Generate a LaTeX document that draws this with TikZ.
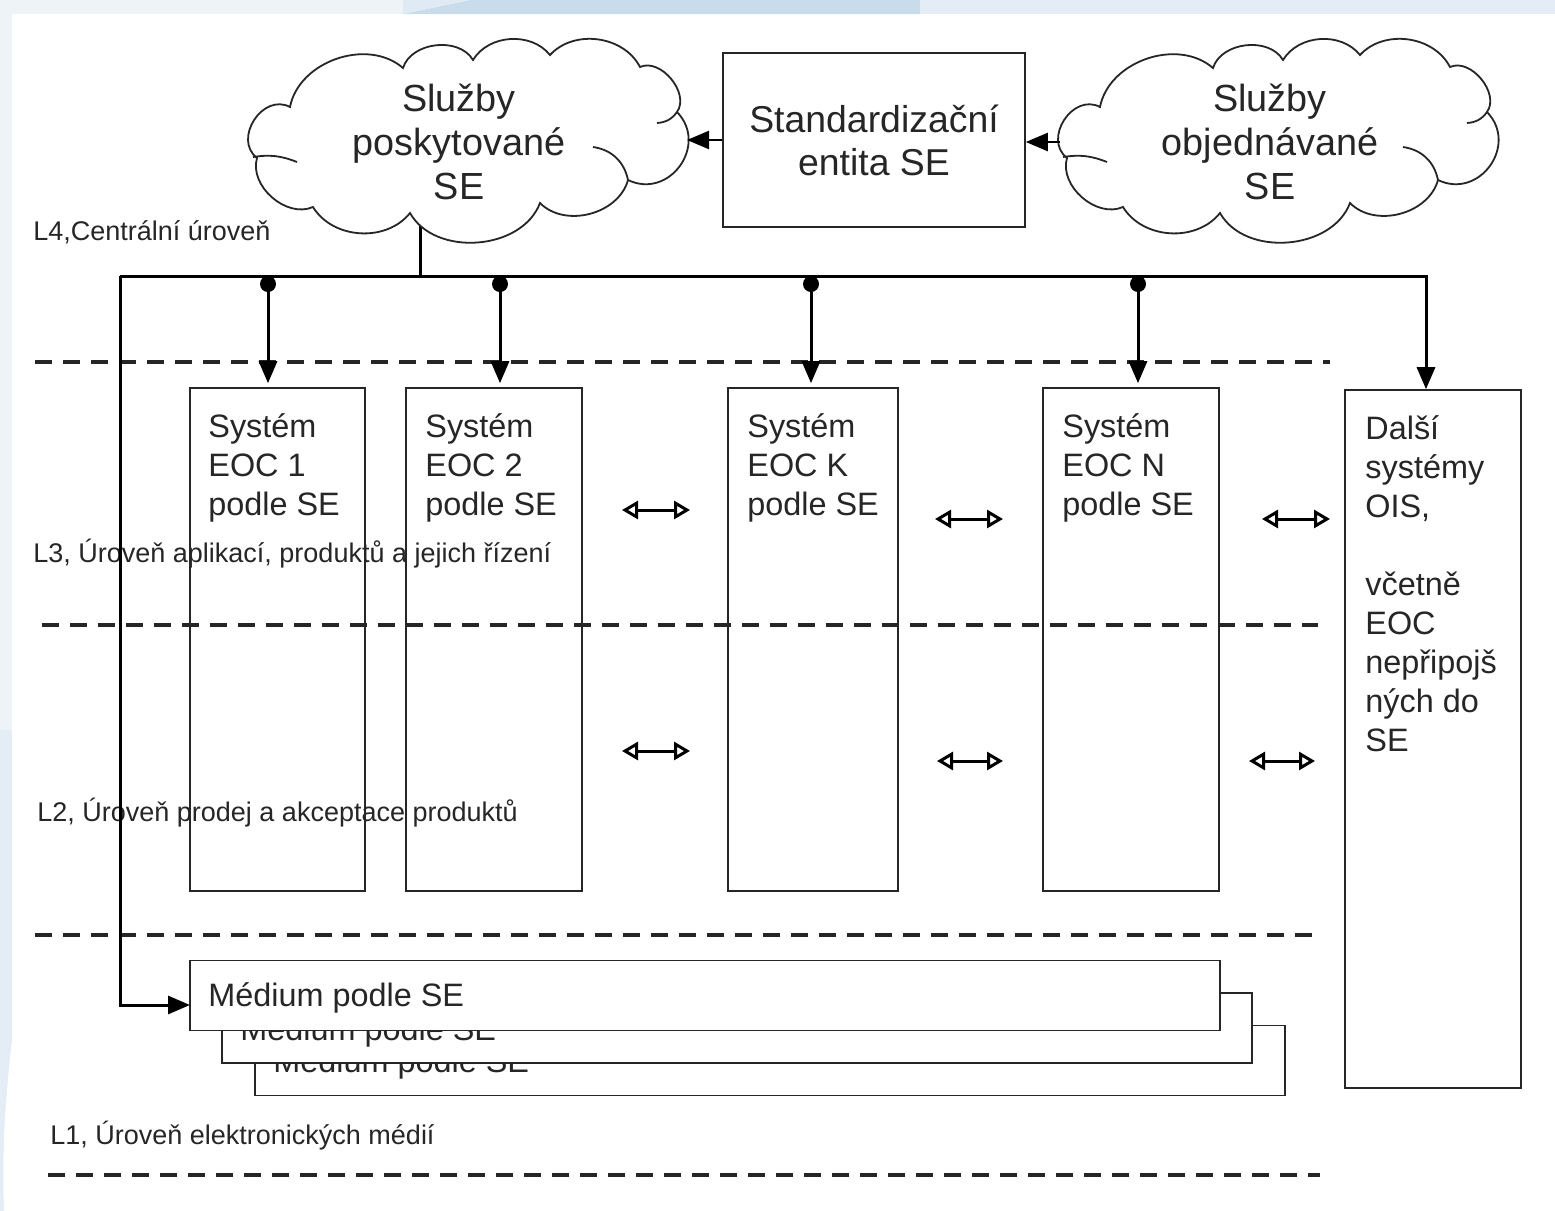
\documentclass[tikz,border=0pt]{standalone}
\usepackage{fontspec}
\setmainfont{Liberation Sans}
\usetikzlibrary{arrows.meta,backgrounds}
\definecolor{stripA}{HTML}{EEF3F8}
\definecolor{stripB}{HTML}{C9DCEC}
\definecolor{stripC}{HTML}{E4ECF5}
\begin{document}
\begin{tikzpicture}[x=0.5pt,y=-0.5pt,
  sysbox/.style={draw=black!85, line width=0.8pt, rectangle, inner sep=0pt},
  medbox/.style={draw=black!85, line width=0.8pt, fill=white, rectangle, inner sep=0pt, minimum width=515pt, minimum height=35pt},
  layerline/.style={line width=1.6pt, dash pattern=on 8.5pt off 5.5pt, black!85},
  busline/.style={line width=1.5pt},
  busarrow/.style={line width=1.5pt, -{Triangle[length=11pt,width=9pt]}},
  dblarrow/.style={line width=1.5pt, {Triangle[open,length=8pt,width=9pt]}-{Triangle[open,length=8pt,width=9pt]}},
  busdot/.style={circle, fill, inner sep=0pt, minimum size=8pt},
  boxtext/.style={font=\fontsize{16.2}{19.5}\selectfont, align=left, anchor=north west, inner sep=0pt, text=black!85},
  cloudtext/.style={font=\fontsize{18.9}{22}\selectfont, align=center, inner sep=0pt, text=black!85},
  lvltext/.style={font=\fontsize{13.5}{16}\selectfont, anchor=west, inner sep=0pt, text=black!85},
  cloudline/.style={draw=black!85, line width=0.9pt},
  vcloud/.pic={
    \draw[cloudline, fill=white] (290,107) to[bend left=60] (403,68) to[bend left=66] (473,60)
      to[bend left=55] (550,55) to[bend left=55] (640,67) to[bend left=75] (677,112)
      to[bend left=80, looseness=1.4] (628,180) to[bend left=60] (540,203)
      to[bend left=65] (410,213) to[bend left=55] (313,207) to[bend left=65] (257,158)
      to[bend left=85, looseness=1.3] (290,107) -- cycle;
    \draw[cloudline] (593,147) to[bend left=35] (628,180);
    \draw[cloudline] (253,157) to[bend left=15] (297,162);
    \draw[cloudline] (657,123) to[bend right=25] (677,112);
  }
]
\useasboundingbox (0,0) rectangle (1555,1211);

% background
\begin{scope}[on background layer]
  \fill[white] (0,0) rectangle (1555,1211);
  \fill[stripA] (0,0) rectangle (403,14);
  \fill[stripB] (403,14) -- (470,0) -- (920,0) -- (920,14) -- cycle;
  \fill[stripB!60!white] (403,0) -- (470,0) -- (403,14) -- cycle;
  \fill[stripC] (920,0) rectangle (1555,14);
  \fill[stripA] (0,14) rectangle (12,730);
  \fill[stripC] (0,730) rectangle (12,1211);
  \fill[white] (12,1040) .. controls (4,1110) and (2,1160) .. (4,1211) -- (12,1211) -- cycle;
\end{scope}

% clouds
\pic at (0,0) {vcloud};
\pic at (810,0) {vcloud};
\coordinate (cLe) at (687,142);
\coordinate (cRw) at (1060,142);
\node[cloudtext] (cLt) at (459,142) {Služby\\poskytované\\SE};
\node[cloudtext] (cRt) at (1270,142) {Služby\\objednávané\\SE};

% standardization entity
\node[sysbox, minimum width=151pt, minimum height=87pt] (std) at (874,140) {};
\node[cloudtext, font=\fontsize{18.7}{21.5}\selectfont] (stdt) at (874,140) {Standardizační\\entita SE};

\draw[busarrow, line width=1.2pt] (std.west) -- (std.west -| cLe);
\draw[busarrow, line width=1.2pt] (cRw) -- (cRw -| std.east);

% system boxes
\node[sysbox, minimum width=87.5pt, minimum height=251.5pt] (e1) at (277.5,639.5) {};
\node[sysbox, minimum width=88pt, minimum height=251.5pt] (e2) at (494,639.5) {};
\node[sysbox, minimum width=85pt, minimum height=251.5pt] (ek) at (813,639.5) {};
\node[sysbox, minimum width=88pt, minimum height=251.5pt] (en) at (1131,639.5) {};
\node[sysbox, minimum width=88pt, minimum height=349pt] (dal) at (1433,739) {};

\node[boxtext] (e1t) at (208,413) {Systém\\EOC 1\\podle SE};
\node[boxtext] (e2t) at (425,413) {Systém\\EOC 2\\podle SE};
\node[boxtext] (ekt) at (747,413) {Systém\\EOC K\\podle SE};
\node[boxtext] (ent) at (1062,413) {Systém\\EOC N\\podle SE};
\node[boxtext] (dalt) at (1365,415) {Další\\systémy\\OIS,\\\mbox{}\\včetně\\EOC\\nepřipojš\\ných do\\SE};

% media boxes
\node[medbox] (m3) at (770,1060.5) {};
\node[boxtext, anchor=west] (m3t) at (273,1064) {Médium podle SE};
\node[medbox] (m2) at (737,1028) {};
\node[boxtext, anchor=west] (m2t) at (240,1032) {Médium podle SE};
\node[medbox] (m1) at (705,995.5) {};
\node[boxtext, anchor=west] (m1t) at (208,998) {Médium podle SE};
\coordinate (mIn) at (190,1005);

% layer separators
\draw[layerline] (35,362) -- (1330,362);
\draw[layerline] (42,625) -- (1318,625);
\draw[layerline] (35,935) -- (1315,935);
\draw[layerline] (48,1175) -- (1320,1175);

% level labels
\node[lvltext] (l4) at (33,232) {L4,Centrální úroveň};
\node[lvltext] (l3) at (33,554) {L3, Úroveň aplikací, produktů a jejich řízení};
\node[lvltext] (l2) at (37,813) {L2, Úroveň prodej a akceptace produktů};
\node[lvltext] (l1) at (50,1136) {L1, Úroveň elektronických médií};

% bus
\coordinate (busL) at (120,276);
\coordinate (busS) at (420,276);
\coordinate (busR) at (1426,276);
\begin{scope}[on background layer]
  \draw[busline] (busS) -- (busS |- cLt.center);
\end{scope}
\draw[busarrow] (busL) -- (busR) -- (busR |- dal.north);
\draw[busarrow] (busL) |- (mIn);

\node[busdot] (d1) at (268,284) {};
\node[busdot] (d2) at (500,284) {};
\node[busdot] (dk) at (811,284) {};
\node[busdot] (dn) at (1138,284) {};
\draw[busarrow, shorten >=2pt] (d1.center) -- (d1 |- e1.north);
\draw[busarrow, shorten >=2pt] (d2.center) -- (d2 |- e2.north);
\draw[busarrow, shorten >=2pt] (dk.center) -- (dk |- ek.north);
\draw[busarrow, shorten >=2pt] (dn.center) -- (dn |- en.north);

% interface arrows
\coordinate (a1a) at (622,510); \coordinate (a1b) at (690,510);
\coordinate (a2a) at (935,519); \coordinate (a2b) at (1003,519);
\coordinate (a3a) at (1262,519); \coordinate (a3b) at (1330,519);
\coordinate (b1a) at (622,751); \coordinate (b1b) at (690,751);
\coordinate (b2a) at (937,761); \coordinate (b2b) at (1003,761);
\coordinate (b3a) at (1249,761); \coordinate (b3b) at (1315,761);
\draw[dblarrow] (a1a) -- (a1b);
\draw[dblarrow] (a2a) -- (a2b);
\draw[dblarrow] (a3a) -- (a3b);
\draw[dblarrow] (b1a) -- (b1b);
\draw[dblarrow] (b2a) -- (b2b);
\draw[dblarrow] (b3a) -- (b3b);
\end{tikzpicture}
\end{document}
